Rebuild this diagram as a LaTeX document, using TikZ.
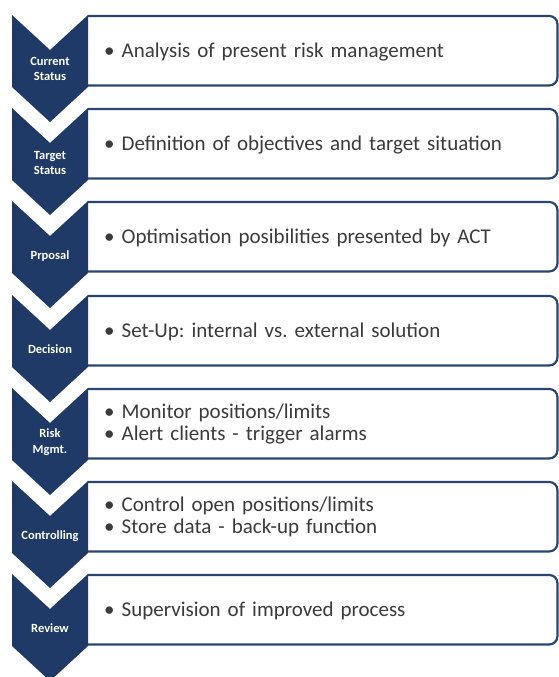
\documentclass[tikz,border=0pt]{standalone}
\usepackage{fontspec}
\setmainfont{Carlito}
\usepackage{xcolor}
\usepackage{tikz}
\definecolor{navy}{HTML}{1F3A66}
\definecolor{boxedge}{HTML}{2B4672}
\definecolor{bodytext}{HTML}{3B3B3B}
\tikzset{
  chev/.style={fill=navy},
  stage/.style={text=white, font=\bfseries\fontsize{12.5}{15.5}\selectfont, align=center},
  itembox/.style={fill=white, anchor=north west, minimum height=69pt, text width=437pt,
    inner xsep=16pt, align=left, text=bodytext, font=\fontsize{21}{22}\selectfont},
  onebox/.style={itembox, text depth=0pt},
  boxline/.style={draw=boxedge, line width=2.2pt, rounded corners=8pt}
}
\frenchspacing

\begin{document}
\begin{tikzpicture}[x=1pt, y=-1pt]
\useasboundingbox (0,0) rectangle (558,677);

% text boxes
\node[onebox] (b1) at (88,16)  {• Analysis of present risk management};
\node[onebox] (b2) at (88,109) {• Definition of objectives and target situation};
\node[onebox] (b3) at (88,202) {• Optimisation posibilities presented by ACT};
\node[onebox] (b4) at (88,296) {• Set-Up: internal vs. external solution};
\node[itembox] (b5) at (88,389) {• Monitor positions/limits\\• Alert clients - trigger alarms};
\node[itembox] (b6) at (88,482) {• Control open positions/limits\\• Store data - back-up function};
\node[onebox] (b7) at (88,575) {• Supervision of improved process};

\draw[boxline] (b1.north west) -- (b1.north east) -- (b1.south east) -- (b1.south west);
\draw[boxline] (b2.north west) -- (b2.north east) -- (b2.south east) -- (b2.south west);
\draw[boxline] (b3.north west) -- (b3.north east) -- (b3.south east) -- (b3.south west);
\draw[boxline] (b4.north west) -- (b4.north east) -- (b4.south east) -- (b4.south west);
\draw[boxline] (b5.north west) -- (b5.north east) -- (b5.south east) -- (b5.south west);
\draw[boxline] (b6.north west) -- (b6.north east) -- (b6.south east) -- (b6.south west);
\draw[boxline] (b7.north west) -- (b7.north east) -- (b7.south east) -- (b7.south west);

% chevrons
\fill[chev] (12,15)  -- ++(38,35) -- ++(38,-35) -- ++(0,72) -- ++(-38,35) -- ++(-38,-35) -- cycle;
\fill[chev] (12,108) -- ++(38,35) -- ++(38,-35) -- ++(0,72) -- ++(-38,35) -- ++(-38,-35) -- cycle;
\fill[chev] (12,201) -- ++(38,35) -- ++(38,-35) -- ++(0,72) -- ++(-38,35) -- ++(-38,-35) -- cycle;
\fill[chev] (12,295) -- ++(38,35) -- ++(38,-35) -- ++(0,72) -- ++(-38,35) -- ++(-38,-35) -- cycle;
\fill[chev] (12,388) -- ++(38,35) -- ++(38,-35) -- ++(0,72) -- ++(-38,35) -- ++(-38,-35) -- cycle;
\fill[chev] (12,481) -- ++(38,35) -- ++(38,-35) -- ++(0,72) -- ++(-38,35) -- ++(-38,-35) -- cycle;
\fill[chev] (12,574) -- ++(38,35) -- ++(38,-35) -- ++(0,72) -- ++(-38,35) -- ++(-38,-35) -- cycle;

\begin{scope}[every node/.style={stage}]
  \node (cur)  at (50,69)  {Current\\Status};
  \node (tgt)  at (50,163) {Target\\Status};
  \node (prop) at (50,256) {Prposal};
  \node (dec)  at (50,349) {Decision};
  \node (risk) at (50,442) {Risk\\Mgmt.};
  \node (ctrl) at (50,536) {Controlling};
  \node (rev)  at (50,628) {Review};
\end{scope}

\end{tikzpicture}
\end{document}
